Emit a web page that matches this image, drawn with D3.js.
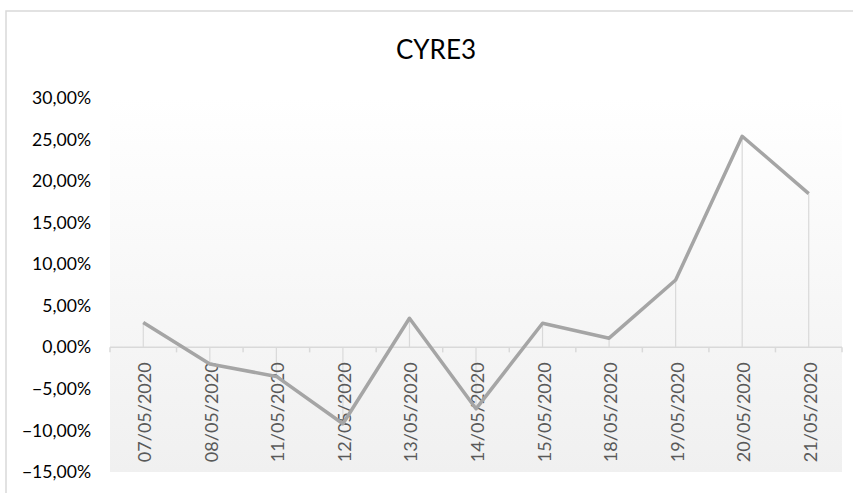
<!DOCTYPE html>
<html><head><meta charset="utf-8">
<script src="https://cdn.jsdelivr.net/npm/d3@7/dist/d3.min.js"></script>
<style>body{margin:0;background:#fff}svg{display:block}</style>
</head><body>
<svg id="c" width="853" height="493"></svg>
<script>
const title = "CYRE3";
const categories = ["07/05/2020","08/05/2020","11/05/2020","12/05/2020","13/05/2020","14/05/2020","15/05/2020","18/05/2020","19/05/2020","20/05/2020","21/05/2020"];
const values = [3.0, -2.0, -3.5, -9.2, 3.5, -7.4, 2.9, 1.1, 8.1, 25.4, 18.5];
const yTicks = [-15, -10, -5, 0, 5, 10, 15, 20, 25, 30];

(function(){
const svg = d3.select("#c");
const pL = 110, pR = 842, pT = 98, pB = 472;
const fontFam = "Lato, 'Open Sans', sans-serif";

// chart border
svg.append("rect").attr("x",6).attr("y",11).attr("width",900).attr("height",600)
  .attr("fill","#fff").attr("stroke","#d9d9d9").attr("stroke-width",1.5);

// gradient plot area
const defs = svg.append("defs");
const g = defs.append("linearGradient").attr("id","bg").attr("x1",0).attr("y1",0).attr("x2",0).attr("y2",1);
g.append("stop").attr("offset","0%").attr("stop-color","#ffffff");
g.append("stop").attr("offset","100%").attr("stop-color","#f0f0f0");
svg.append("rect").attr("x",pL).attr("y",pT).attr("width",pR-pL).attr("height",pB-pT).attr("fill","url(#bg)");

const x = d3.scaleBand().domain(categories).range([pL,pR]);
const y = d3.scaleLinear().domain([-15,30]).range([pB,pT]);

// title
svg.append("text").attr("x",436).attr("y",59).attr("text-anchor","middle")
  .attr("font-family",fontFam).attr("font-size",26).attr("fill","#000").text(title);

// y axis labels
const yAxis = d3.axisLeft(y).tickValues(yTicks).tickSize(0).tickPadding(0)
  .tickFormat(d => d3.format(".2f")(d).replace(".", ",") + "%");
const ya = svg.append("g").attr("transform",`translate(${pL-19},0)`).call(yAxis);
ya.select(".domain").remove();
ya.selectAll("text").attr("font-family",fontFam).attr("font-size",17.6).attr("fill","#000");

// drop lines
svg.append("g").selectAll("line").data(values).join("line")
  .attr("x1",(d,i)=>x(categories[i])+x.bandwidth()/2)
  .attr("x2",(d,i)=>x(categories[i])+x.bandwidth()/2)
  .attr("y1",d=>y(d)).attr("y2",y(0))
  .attr("stroke","#d9d9d9").attr("stroke-width",1.2);

// x axis at 0
const y0 = y(0);
svg.append("line").attr("x1",pL).attr("x2",pR).attr("y1",y0).attr("y2",y0)
  .attr("stroke","#d9d9d9").attr("stroke-width",1.5);
const bounds = categories.map(c=>x(c)).concat([pR]);
svg.append("g").selectAll("line").data(bounds).join("line")
  .attr("x1",d=>d).attr("x2",d=>d).attr("y1",y0).attr("y2",y0+5)
  .attr("stroke","#d9d9d9").attr("stroke-width",1.5);

// x labels rotated
svg.append("g").selectAll("text").data(categories).join("text")
  .attr("transform",d=>`translate(${x(d)+x.bandwidth()/2+8},${y0+15}) rotate(-90)`)
  .attr("text-anchor","end").attr("font-family",fontFam).attr("font-size",18)
  .attr("fill","#595959").text(d=>d);

// line
const line = d3.line().x((d,i)=>x(categories[i])+x.bandwidth()/2).y(d=>y(d));
svg.append("path").datum(values).attr("d",line).attr("fill","none")
  .attr("stroke","#a5a5a5").attr("stroke-width",3.5).attr("stroke-linejoin","round");
})();
</script>
</body></html>
